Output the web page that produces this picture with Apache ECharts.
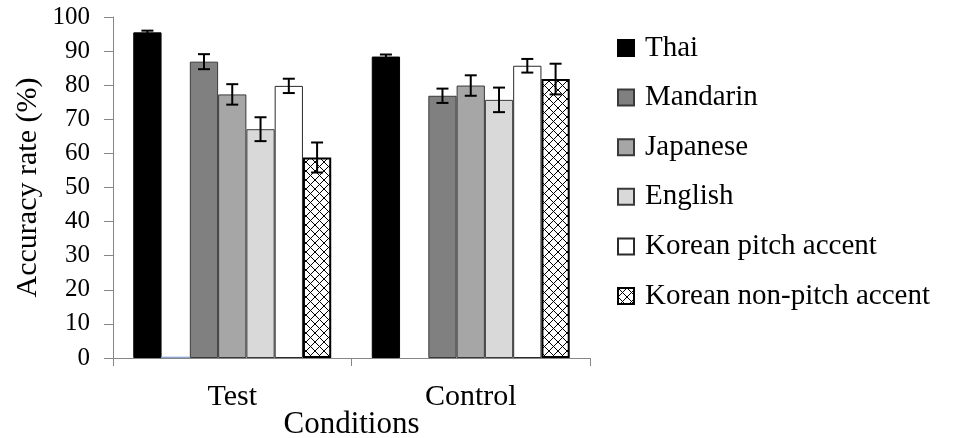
<!DOCTYPE html>
<html>
<head>
<meta charset="utf-8">
<title>Accuracy rate by condition</title>
<script src="https://cdn.jsdelivr.net/npm/echarts@6/dist/echarts.min.js"></script>
<style>
  html, body { margin: 0; padding: 0; background: #fff; }
  #chart { width: 961px; height: 438px; }
</style>
</head>
<body>
<div id="chart"></div>
<script>
// Conditions on the x axis
const categories = ['Test', 'Control'];
const yTicks = [0, 10, 20, 30, 40, 50, 60, 70, 80, 90, 100];

// Mean accuracy (%) per listener group, [Test, Control]
const thai = [95.5, 88.4];
const unlabelled = [0.4, 0];
const mandarin = [86.9, 76.9];
const japanese = [77.3, 79.9];
const english = [67.1, 75.7];
const koreanPitch = [79.8, 85.7];
const koreanNonPitch = [58.8, 81.8];

// Error bar half-widths, [Test, Control]
const thaiErr = [0.5, 0.6];
const mandarinErr = [2.2, 2.1];
const japaneseErr = [3.0, 3.0];
const englishErr = [3.5, 3.6];
const koreanPitchErr = [2.1, 2.0];
const koreanNonPitchErr = [4.4, 4.5];

const FONT = 'Liberation Serif';
const CAT_GAP = 0.17;
const N_SLOTS = 7;

// Cross-hatch fill
function hatch() {
  const s = 9;
  const c = document.createElement('canvas');
  c.width = s; c.height = s;
  const g = c.getContext('2d');
  g.fillStyle = '#fff';
  g.fillRect(0, 0, s, s);
  g.strokeStyle = '#000';
  g.lineWidth = 1;
  g.beginPath();
  g.moveTo(-1, -1); g.lineTo(s + 1, s + 1);
  g.moveTo(s + 1, -1); g.lineTo(-1, s + 1);
  g.stroke();
  return c;
}

const groups = [
  { name: 'Thai', data: thai, err: thaiErr, slot: 0,
    style: { color: '#000', borderColor: '#000', borderWidth: 1 } },
  { name: '', data: unlabelled, err: null, slot: 1,
    style: { color: '#8EA6D4', borderWidth: 0 } },
  { name: 'Mandarin', data: mandarin, err: mandarinErr, slot: 2,
    style: { color: '#808080', borderColor: '#3a3a3a', borderWidth: 1 } },
  { name: 'Japanese', data: japanese, err: japaneseErr, slot: 3,
    style: { color: '#A6A6A6', borderColor: '#3a3a3a', borderWidth: 1 } },
  { name: 'English', data: english, err: englishErr, slot: 4,
    style: { color: '#D9D9D9', borderColor: '#3a3a3a', borderWidth: 1 } },
  { name: 'Korean pitch accent', data: koreanPitch, err: koreanPitchErr, slot: 5,
    style: { color: '#fff', borderColor: '#2a2a2a', borderWidth: 1 } },
  { name: 'Korean non-pitch accent', data: koreanNonPitch, err: koreanNonPitchErr, slot: 6,
    style: { color: { image: hatch(), repeat: 'repeat' }, borderColor: '#000', borderWidth: 2 } }
];

const series = [];
groups.forEach(function (g) {
  series.push({
    name: g.name,
    type: 'bar',
    data: g.data,
    barGap: '0%',
    barCategoryGap: (CAT_GAP * 100) + '%',
    itemStyle: g.style,
    emphasis: { disabled: true },
    z: 2
  });
});

groups.forEach(function (g) {
  if (!g.err) return;
  series.push({
    type: 'custom',
    silent: true,
    z: 5,
    data: categories.map(function (_, i) { return [i, g.data[i], g.err[i]]; }),
    renderItem: function (params, api) {
      const ci = api.value(0), v = api.value(1), e = api.value(2);
      const band = api.size([1, 0])[0];
      const bw = band * (1 - CAT_GAP) / N_SLOTS;
      const x = api.coord([ci, v])[0] + (g.slot - (N_SLOTS - 1) / 2) * bw;
      const hi = api.coord([ci, v + e])[1];
      const lo = api.coord([ci, v - e])[1];
      const cap = 6;
      const st = { stroke: '#000', lineWidth: 2 };
      return {
        type: 'group',
        children: [
          { type: 'line', shape: { x1: x, y1: hi, x2: x, y2: lo }, style: st },
          { type: 'line', shape: { x1: x - cap, y1: hi, x2: x + cap, y2: hi }, style: st },
          { type: 'line', shape: { x1: x - cap, y1: lo, x2: x + cap, y2: lo }, style: st }
        ]
      };
    }
  });
});

const chart = echarts.init(document.getElementById('chart'), null, { renderer: 'canvas' });
chart.setOption({
  animation: false,
  backgroundColor: '#fff',
  textStyle: { fontFamily: FONT, color: '#000' },
  grid: { left: 113, right: 371, top: 17, bottom: 80, containLabel: false, outerBoundsMode: 'none' },
  legend: {
    data: groups.filter(function (g) { return g.name; }).map(function (g) { return g.name; }),
    orient: 'vertical',
    left: 612,
    top: 28,
    icon: 'rect',
    itemWidth: 16,
    itemHeight: 16,
    itemGap: 19.6,
    selectedMode: false,
    textStyle: { fontFamily: FONT, fontSize: 29, lineHeight: 30, color: '#000', padding: [0, 0, 0, 6] }
  },
  xAxis: {
    type: 'category',
    data: categories,
    name: 'Conditions',
    nameLocation: 'middle',
    nameGap: 51,
    nameMoveOverlap: false,
    nameTextStyle: { fontFamily: FONT, fontSize: 31, lineHeight: 31, color: '#000' },
    axisLine: { lineStyle: { color: '#868686', width: 1 } },
    axisTick: { show: true, alignWithLabel: false, length: 8, lineStyle: { color: '#868686' } },
    axisLabel: { fontFamily: FONT, fontSize: 30, lineHeight: 30, color: '#000', margin: 24 },
    splitLine: { show: false }
  },
  yAxis: {
    type: 'value',
    min: yTicks[0],
    max: yTicks[yTicks.length - 1],
    interval: yTicks[1] - yTicks[0],
    name: 'Accuracy rate (%)',
    nameLocation: 'middle',
    nameGap: 70,
    nameMoveOverlap: false,
    nameTextStyle: { fontFamily: FONT, fontSize: 30, lineHeight: 30, color: '#000' },
    axisLine: { show: true, lineStyle: { color: '#868686', width: 1 } },
    axisTick: { show: true, length: 9, lineStyle: { color: '#868686' } },
    axisLabel: { fontFamily: FONT, fontSize: 25, color: '#000', margin: 23 },
    splitLine: { show: false }
  },
  series: series
});
</script>
</body>
</html>
